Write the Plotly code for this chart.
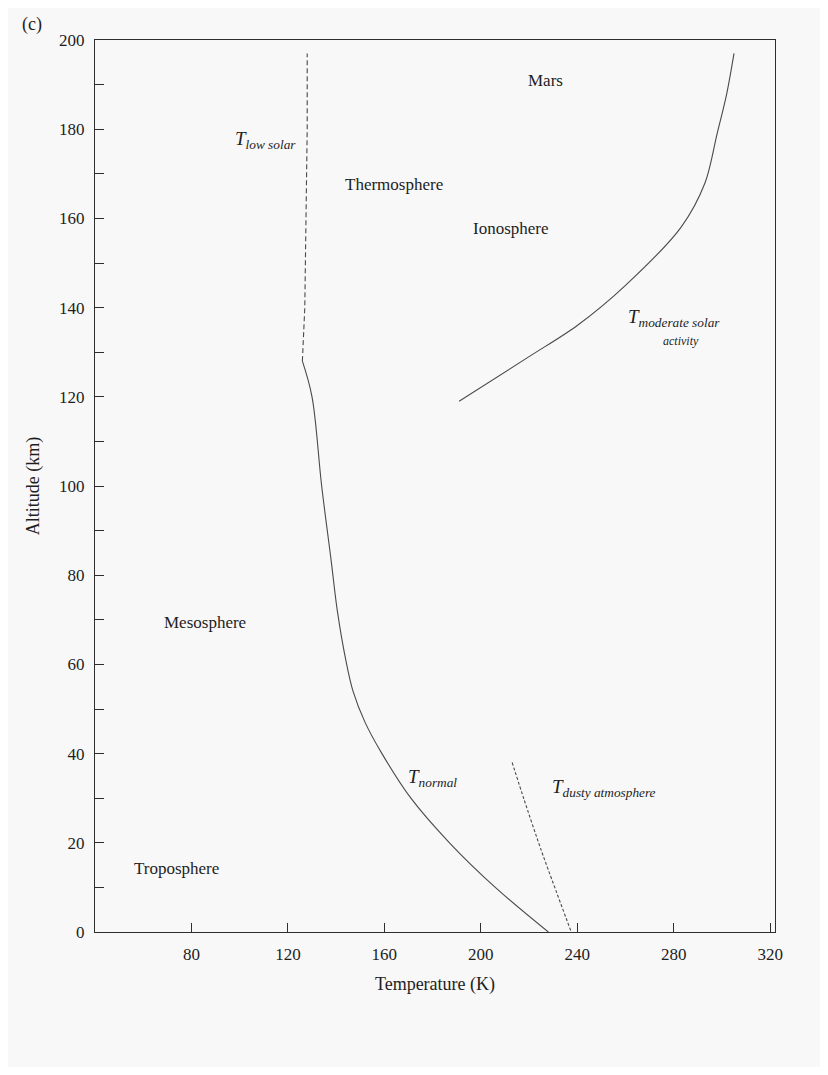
import plotly.graph_objects as go

normal_temp = [228, 206, 187, 171, 159, 152, 147, 144, 140.5, 138, 134, 130, 126]
normal_alt = [0, 10, 20, 30, 40, 47, 54, 61, 72, 83, 100, 120, 128]

low_solar_temp = [126, 127, 127.5, 128, 128]
low_solar_alt = [128, 140, 160, 180, 197]

moderate_temp = [191, 220, 240, 260, 283, 293, 298, 302, 305]
moderate_alt = [119, 129, 136, 145, 158, 168, 179, 188, 197]

dusty_temp = [213, 218, 225, 237.5]
dusty_alt = [38, 29.6, 18.4, 0]

x_ticks = [80, 120, 160, 200, 240, 280, 320]
y_ticks = [0, 20, 40, 60, 80, 100, 120, 140, 160, 180, 200]

LINE = "#4a4a4a"
AXIS = "#2e2e2e"
TEXT = "#1e1e1e"
FONT = "Liberation Serif"

fig = go.Figure()

fig.add_trace(go.Scatter(x=normal_temp, y=normal_alt, mode="lines",
                         line=dict(color=LINE, width=1.1, shape="spline", smoothing=1.0)))
fig.add_trace(go.Scatter(x=low_solar_temp, y=low_solar_alt, mode="lines",
                         line=dict(color=LINE, width=1.1, dash="5px,3px")))
fig.add_trace(go.Scatter(x=moderate_temp, y=moderate_alt, mode="lines",
                         line=dict(color=LINE, width=1.1, shape="spline", smoothing=0.9)))
fig.add_trace(go.Scatter(x=dusty_temp, y=dusty_alt, mode="lines",
                         line=dict(color=LINE, width=1.1, dash="3px,2px", shape="spline", smoothing=0.7)))

labels = [
    (227, 191, "Mars"),
    (164, 167.5, "Thermosphere"),
    (212.5, 157.8, "Ionosphere"),
    (85.5, 69.5, "Mesosphere"),
    (74, 14.3, "Troposphere"),
]
for x, y, t in labels:
    fig.add_annotation(x=x, y=y, text=t, showarrow=False,
                       font=dict(family=FONT, size=17, color=TEXT))

sym = [
    (110.5, 177.6, "<i>T</i><sub><i>low solar</i></sub>"),
    (280, 137.7, "<i>T</i><sub><i>moderate solar</i></sub>"),
    (180, 34.5, "<i>T</i><sub><i>normal</i></sub>"),
    (251, 32.3, "<i>T</i><sub><i>dusty atmosphere</i></sub>"),
]
for x, y, t in sym:
    fig.add_annotation(x=x, y=y, text=t, showarrow=False,
                       font=dict(family=FONT, size=19, color=TEXT))
fig.add_annotation(x=283, y=132.6, text="<i>activity</i>", showarrow=False,
                   font=dict(family=FONT, size=12, color=TEXT))

fig.add_annotation(xref="paper", yref="paper", x=-0.11, y=1.031, text="(c)",
                   showarrow=False, xanchor="left", yanchor="top",
                   font=dict(family=FONT, size=18, color=TEXT))

fig.update_xaxes(
    range=[40, 322], tickvals=x_ticks, ticks="inside", ticklen=9, tickwidth=1,
    tickcolor=AXIS, showline=True, linecolor=AXIS, linewidth=1.3, mirror=True,
    showgrid=False, zeroline=False, ticklabelstandoff=6,
    tickfont=dict(family=FONT, size=17, color=TEXT),
    title=dict(text="Temperature (K)", font=dict(family=FONT, size=18, color=TEXT), standoff=14),
)
fig.update_yaxes(
    range=[0, 200], tickvals=y_ticks, ticks="inside", ticklen=9, tickwidth=1,
    tickcolor=AXIS, showline=True, linecolor=AXIS, linewidth=1.3, mirror=True,
    showgrid=False, zeroline=False, ticklabelstandoff=6,
    minor=dict(dtick=10, ticks="inside", ticklen=9, tickcolor=AXIS),
    tickfont=dict(family=FONT, size=17, color=TEXT),
    title=dict(text="Altitude (km)", font=dict(family=FONT, size=18, color=TEXT), standoff=14),
)

fig.update_layout(
    width=812, height=1059,
    margin=dict(l=87, r=45, t=32, b=135),
    paper_bgcolor="#f8f8f8", plot_bgcolor="#f8f8f8",
    showlegend=False,
)

fig.write_html("out.html")
